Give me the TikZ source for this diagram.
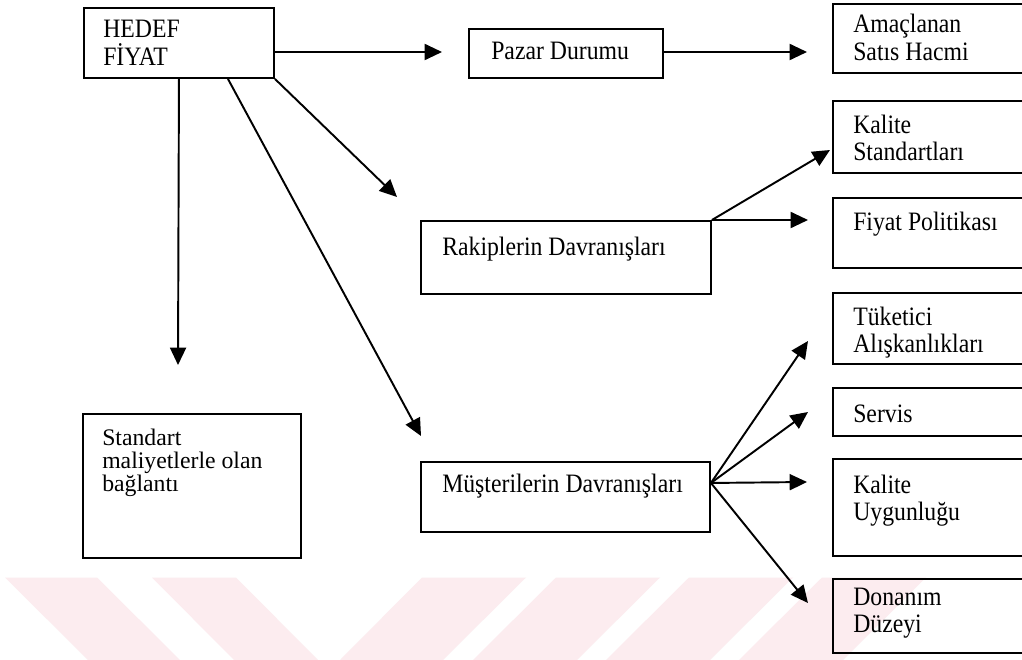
\documentclass[tikz,border=0pt]{standalone}
\usepackage{graphicx}
\usepackage{fontspec}
\setmainfont{Liberation Serif}
\usetikzlibrary{arrows.meta,calc}
\definecolor{wm}{RGB}{252,236,239}
\newcommand{\tall}[1]{\scalebox{1}[1.12]{#1}}
\tikzset{
  box/.style={draw=black, line width=1.45pt, rectangle, inner sep=0pt, anchor=north west},
  lbl/.style={anchor=base west, inner sep=0pt, font=\fontsize{17.8pt}{18.1pt}\selectfont},
  arr/.style={line width=1.45pt, -{Triangle[length=13pt,width=12pt]}},
  wmark/.style={fill=wm, draw=none}
}
\begin{document}
\begin{tikzpicture}[x=0.75pt, y=-0.75pt]
\useasboundingbox (0,0) rectangle (1022,660);
\clip (0,0) rectangle (1022,660);
\fill[white] (0,0) rectangle (1022,660);
% watermark stripes
\fill[wmark] (5,577.5) -- (97,577.5) -- (180,660) -- (88,660) -- cycle;
\fill[wmark] (152,577.5) -- (236,577.5) -- (318,660) -- (234,660) -- cycle;
\fill[wmark] (422,577.5) -- (526,577.5) -- (443,660) -- (340,660) -- cycle;
\fill[wmark] (556,577.5) -- (660,577.5) -- (577,660) -- (473,660) -- cycle;
\fill[wmark] (689,577.5) -- (793,577.5) -- (710,660) -- (606,660) -- cycle;
\fill[wmark] (822,577.5) -- (926,577.5) -- (843,660) -- (739,660) -- cycle;

% boxes
\node[box, minimum width=142.5pt, minimum height=52.5pt] (hedef) at (83,7) {};
\node[box, minimum width=145.5pt, minimum height=36.75pt] (pazar) at (468,28) {};
\node[box, minimum width=156pt, minimum height=51.75pt] (amac) at (832,3) {};
\node[box, minimum width=156pt, minimum height=54pt] (kalst) at (832,100) {};
\node[box, minimum width=156pt, minimum height=52.5pt] (fiyat) at (832,197) {};
\node[box, minimum width=217.5pt, minimum height=54.75pt] (rakip) at (420,220) {};
\node[box, minimum width=156pt, minimum height=53.25pt] (tuket) at (832,292) {};
\node[box, minimum width=156pt, minimum height=36pt] (servis) at (832,387) {};
\node[box, minimum width=156pt, minimum height=72.75pt] (kaluyg) at (832,458) {};
\node[box, minimum width=156pt, minimum height=55.5pt] (donan) at (832,578) {};
\node[box, minimum width=216.75pt, minimum height=52.5pt] (musteri) at (420,461) {};
\node[box, minimum width=163.5pt, minimum height=108pt] (standart) at (82,413) {};

% texts
\node[lbl] (hedefT) at (103,38) {\tall{\parbox[t]{130pt}{HEDEF\\FİYAT}}};
\node[lbl] (pazarT) at (491,60) {\tall{Pazar Durumu}};
\node[lbl] (amacT) at (853,33) {\tall{\parbox[t]{140pt}{Amaçlanan\\Satıs Hacmi}}};
\node[lbl] (kalstT) at (853,133) {\tall{\parbox[t]{140pt}{Kalite\\Standartları}}};
\node[lbl] (fiyatT) at (853,230) {\tall{Fiyat Politikası}};
\node[lbl] (rakipT) at (442,255) {\tall{Rakiplerin Davranışları}};
\node[lbl] (tuketT) at (853,325) {\tall{\parbox[t]{140pt}{Tüketici\\Alışkanlıkları}}};
\node[lbl] (servisT) at (853,422) {\tall{Servis}};
\node[lbl] (kaluygT) at (853,493) {\tall{\parbox[t]{140pt}{Kalite\\Uygunluğu}}};
\node[lbl] (donanT) at (853,605) {\tall{\parbox[t]{140pt}{Donanım\\Düzeyi}}};
\node[lbl] (musteriT) at (442,492) {\tall{Müşterilerin Davranışları}};
\node[lbl] (standartT) at (102,445) {\parbox[t]{160pt}{\fontsize{17.8pt}{17.25pt}\selectfont Standart\\maliyetlerle olan\\bağlantı}};

% free arrow ends
\coordinate (tPazar) at (442,52);
\coordinate (tAmac) at (807,52);
\coordinate (tStd) at (178,365);
\coordinate (tRak) at (397,197);
\coordinate (tMus) at (421,436);
\coordinate (tKalst) at (830,150);
\coordinate (tFiyat) at (808,220);
\coordinate (tTuket) at (808,341);
\coordinate (tServis) at (808,412);
\coordinate (tKaluyg) at (807,482);
\coordinate (tDonan) at (808,603);

% connectors
\draw[arr] (hedef.north east |- tPazar) -- (tPazar);
\draw[arr] (pazar.east |- tAmac) -- (tAmac);
\draw[arr] (hedef.south) -- (tStd);
\draw[arr] (hedef.south east) -- (tRak);
\draw[arr] ([xshift=36.75pt]hedef.south) -- (tMus);
\draw[arr] (rakip.north east) -- (tKalst);
\draw[arr] (rakip.north east) -- (tFiyat);
\draw[arr] ([yshift=10.5pt]musteri.east) -- (tTuket);
\draw[arr] ([yshift=10.5pt]musteri.east) -- (tServis);
\draw[arr] ([yshift=10.5pt]musteri.east) -- (tKaluyg);
\draw[arr] ([yshift=10.5pt]musteri.east) -- (tDonan);
\end{tikzpicture}
\end{document}
